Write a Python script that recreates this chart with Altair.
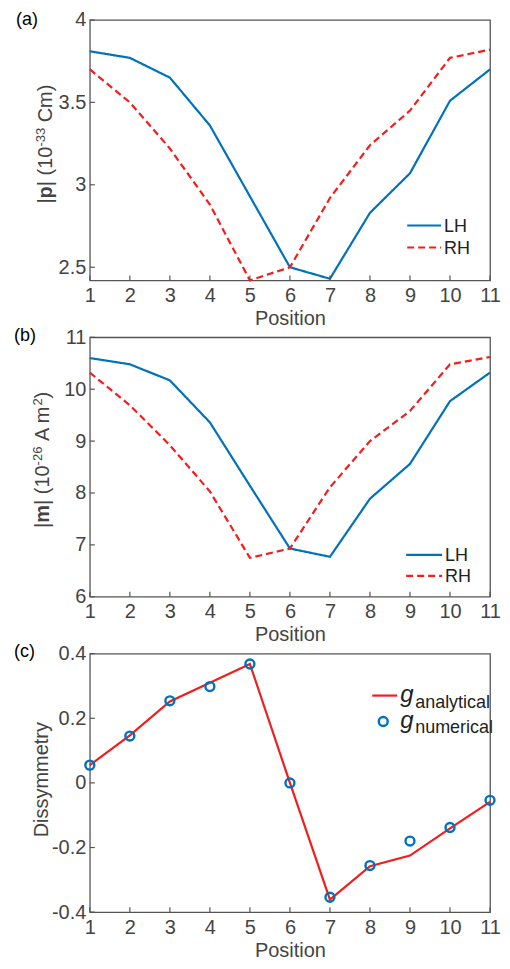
import altair as alt
import pandas as pd

# ---------------- data ----------------
positions = list(range(1, 12))
series_names = ["LH", "RH"]

p_lh = [3.81, 3.77, 3.65, 3.36, 2.93, 2.50, 2.43, 2.83, 3.07, 3.51, 3.70]
p_rh = [3.70, 3.50, 3.22, 2.88, 2.42, 2.50, 2.92, 3.24, 3.45, 3.77, 3.82]

m_lh = [10.60, 10.48, 10.17, 9.36, 8.14, 6.93, 6.77, 7.89, 8.56, 9.77, 10.32]
m_rh = [10.32, 9.69, 8.92, 8.03, 6.75, 6.93, 8.11, 9.00, 9.58, 10.48, 10.62]

g_analytical = [0.055, 0.147, 0.252, 0.310, 0.368, 0.0, -0.361, -0.258, -0.225, -0.141, -0.059]
g_numerical = [0.055, 0.145, 0.254, 0.298, 0.368, 0.0, -0.354, -0.256, -0.180, -0.138, -0.054]

p_ticks = [2.5, 3, 3.5, 4]
m_ticks = [6, 7, 8, 9, 10, 11]
g_ticks = [-0.4, -0.2, 0, 0.2, 0.4]

# ---------------- style ----------------
FONT = "Liberation Sans"
AX = "#444444"
BORDER = "#555555"
BLUE = "#0072BD"
RED = "#F21D1D"
DASH = [7, 4]

W_N = {"|": 0.26, " ": 0.278, "(": 0.333, ")": 0.333, "-": 0.333, "C": 0.722,
       "m": 0.833, "A": 0.667}
W_B = {"p": 0.611, "m": 0.889}


def text_width(s, size, bold):
    tot = 0.0
    for ch in s:
        if ch.isdigit():
            tot += 0.556
        elif bold and ch in W_B:
            tot += W_B[ch]
        else:
            tot += W_N.get(ch, 0.556)
    return tot * size


def one():
    return alt.Data(values=[{}])


def txt(text, x, y, size, color="#222222", **kw):
    return alt.Chart(one()).mark_text(
        text=text, font=FONT, fontSize=size, align="left", baseline="alphabetic",
        color=color, **kw
    ).encode(x=alt.value(x), y=alt.value(y))


def ytitle(pieces, bx, by):
    layers = []
    off = 0.0
    for s, size, bold, rise in pieces:
        lead = len(s) - len(s.lstrip(" "))
        off += lead * W_N[" "] * size
        core = s.strip(" ")
        layers.append(
            alt.Chart(one()).mark_text(
                text=core, font=FONT, fontSize=size, angle=270, align="left",
                baseline="alphabetic", color=AX,
                fontWeight="bold" if bold else "normal",
            ).encode(x=alt.value(bx - rise), y=alt.value(by - off))
        )
        off += text_width(core, size, bold)
    return layers


def xaxis():
    return alt.Axis(values=positions, title="Position", labelFlush=False,
                    labelOverlap=False, ticks=False, domain=False, grid=False,
                    labelFontSize=20, labelColor=AX, labelPadding=5, labelFont=FONT,
                    titleFontSize=20, titleFontWeight="normal", titleColor=AX,
                    titlePadding=3, titleFont=FONT)


def yaxis(vals):
    return alt.Axis(values=vals, title=None, labelFlush=False, labelOverlap=False,
                    ticks=False, domain=False, grid=False, labelFontSize=20,
                    labelColor=AX, labelPadding=4, labelFont=FONT,
                    labelExpr="'' + datum.value")


XS = alt.Scale(domain=[1, 11], nice=False, zero=False)


def tick_layers(H, ys, yax, yvals, fld):
    xt = pd.DataFrame({"pos": positions})
    yt = pd.DataFrame({fld: yvals})
    xr = alt.Chart(xt).mark_rule(color=BORDER, strokeWidth=1.2).encode(
        x=alt.X("pos:Q", scale=XS, axis=xaxis()),
        y=alt.value(H), y2=alt.value(H - 5))
    yr = alt.Chart(yt).mark_rule(color=BORDER, strokeWidth=1.2).encode(
        y=alt.Y(f"{fld}:Q", scale=ys, axis=yax),
        x=alt.value(0), x2=alt.value(5))
    return [xr, yr]


def lr_panel(W, H, lh, rh, ydom, yvals, label, lab_x, lab_y, title_pieces,
             tx, ty, leg_x1, leg_x2, leg_y1, leg_y2):
    df = pd.DataFrame({"pos": positions * 2, "val": lh + rh,
                       "series": [series_names[0]] * 11 + [series_names[1]] * 11})
    ys = alt.Scale(domain=ydom, nice=False, zero=False)
    yax = yaxis(yvals)
    lines = alt.Chart(df).mark_line(strokeWidth=2.2).encode(
        x=alt.X("pos:Q", scale=XS, axis=xaxis()),
        y=alt.Y("val:Q", scale=ys, axis=yax),
        color=alt.Color("series:N", scale=alt.Scale(domain=series_names, range=[BLUE, RED]), legend=None),
        strokeDash=alt.StrokeDash("series:N", scale=alt.Scale(domain=series_names, range=[[1, 0], DASH]), legend=None),
        detail="series:N",
    )
    layers = [lines] + tick_layers(H, ys, yax, yvals, "val")
    layers.append(alt.Chart(one()).mark_rule(color=BLUE, strokeWidth=2.2).encode(
        x=alt.value(leg_x1), x2=alt.value(leg_x2), y=alt.value(leg_y1)))
    layers.append(alt.Chart(one()).mark_rule(color=RED, strokeWidth=2.2, strokeDash=DASH).encode(
        x=alt.value(leg_x1), x2=alt.value(leg_x2), y=alt.value(leg_y2)))
    layers.append(txt(series_names[0], leg_x2 + 3, leg_y1 + 6.5, 18))
    layers.append(txt(series_names[1], leg_x2 + 3, leg_y2 + 6.5, 18))
    layers.append(txt(label, lab_x, lab_y, 18, color="#000000"))
    layers += ytitle(title_pieces, tx, ty)
    return alt.layer(*layers).properties(width=W, height=H)


W = 401
HA, HB, HC = 261, 260, 259

pa = lr_panel(W, HA, p_lh, p_rh, [2.42, 4.0], p_ticks, "(a)", -74, 5,
              [("|", 20, False, 0), ("p", 20, True, 0), ("| (10", 20, False, 0),
               ("-33", 13, False, 7), (" Cm)", 20, False, 0)],
              -38, 184, 318, 352, 206, 228)

pb = lr_panel(W, HB, m_lh, m_rh, [6, 11], m_ticks, "(b)", -76, 4,
              [("|", 20, False, 0), ("m", 20, True, 0), ("| (10", 20, False, 0),
               ("-26", 13, False, 7), (" A m", 20, False, 0), ("2", 13, False, 7),
               (")", 20, False, 0)],
              -41, 191, 317, 353, 218, 239)

# panel c
ys_c = alt.Scale(domain=[-0.4, 0.4], nice=False, zero=False)
yax_c = yaxis(g_ticks)
df_an = pd.DataFrame({"pos": positions, "g": g_analytical})
df_num = pd.DataFrame({"pos": positions, "g": g_numerical})
line_c = alt.Chart(df_an).mark_line(color=RED, strokeWidth=2.2).encode(
    x=alt.X("pos:Q", scale=XS, axis=xaxis()),
    y=alt.Y("g:Q", scale=ys_c, axis=yax_c))
pts_c = alt.Chart(df_num).mark_point(shape="circle", filled=False, color=BLUE,
                                     size=80, strokeWidth=2.4, opacity=1).encode(
    x=alt.X("pos:Q", scale=XS, axis=xaxis()),
    y=alt.Y("g:Q", scale=ys_c, axis=yax_c))
layers_c = [line_c, pts_c] + tick_layers(HC, ys_c, yax_c, g_ticks, "g")
layers_c.append(alt.Chart(one()).mark_rule(color=RED, strokeWidth=2.2).encode(
    x=alt.value(283), x2=alt.value(308), y=alt.value(42)))
layers_c.append(alt.Chart(one()).mark_point(shape="circle", filled=False, color=BLUE,
                                            size=80, strokeWidth=2.4, opacity=1).encode(
    x=alt.value(294), y=alt.value(68)))
layers_c.append(txt("g", 311, 48, 24, fontStyle="italic"))
layers_c.append(txt("analytical", 326, 54, 18))
layers_c.append(txt("g", 311, 74, 24, fontStyle="italic"))
layers_c.append(txt("numerical", 326, 80, 18))
layers_c.append(txt("(c)", -76, 3, 18, color="#000000"))
layers_c += ytitle([("Dissymmetry", 20, False, 0)], -42, 184)
pc = alt.layer(*layers_c).properties(width=W, height=HC)

chart = alt.vconcat(pa, pb, pc, spacing=57, bounds="flush").properties(
    padding={"left": 5, "top": 0, "right": 0, "bottom": 0}
).configure_view(stroke=BORDER, strokeWidth=1.3).configure_axis(
    labelFont=FONT, titleFont=FONT)

chart.save("out.html", embed_options={"renderer": "svg", "actions": False})
